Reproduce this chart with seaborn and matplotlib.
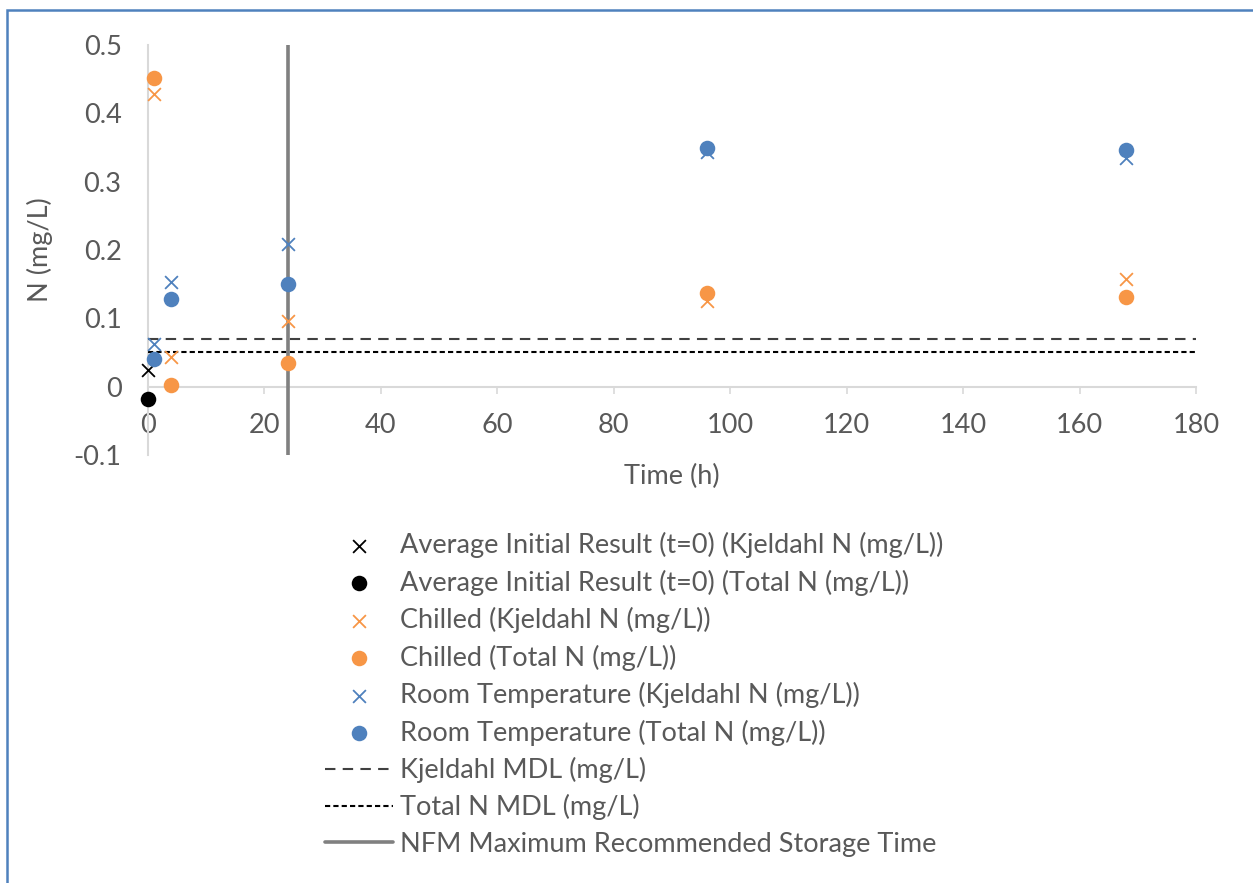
import matplotlib
matplotlib.use("Agg")
import matplotlib.pyplot as plt
import seaborn as sns
import pandas as pd
from matplotlib.patches import Rectangle

# valores
tempo = [1, 4, 24, 96, 168]
tempo_inicial = [0]
inicial_kjeldahl = [0.024]
inicial_total = [-0.018]
chilled_kjeldahl = [0.429, 0.044, 0.096, 0.125, 0.157]
chilled_total = [0.451, 0.002, 0.035, 0.137, 0.131]
room_kjeldahl = [0.063, 0.153, 0.209, 0.344, 0.335]
room_total = [0.041, 0.128, 0.150, 0.349, 0.347]
mdl_x = [0, 180]
kjeldahl_mdl = [0.07, 0.07]
total_mdl = [0.05, 0.05]
nfm_x = [24, 24]
nfm_y = [-0.1, 0.5]
xticks = [0, 20, 40, 60, 80, 100, 120, 140, 160, 180]
yticks = [-0.1, 0, 0.1, 0.2, 0.3, 0.4, 0.5]
ytick_labels = ["-0.1", "0", "0.1", "0.2", "0.3", "0.4", "0.5"]

sns.set_theme(style="white")
plt.rcParams['font.family'] = ['Lato', 'DejaVu Sans']
cinza_texto = '#595959'
laranja = '#F79646'
azul = '#4F81BD'
fonte = 19.5

fig = plt.figure(figsize=(12.53, 8.83), dpi=100)
ax = fig.add_axes([148 / 1253, 1 - 455 / 883, 1048 / 1253, 410 / 883])

def pontos(x, y, cor, marcador, label):
    df = pd.DataFrame({'x': x, 'y': y})
    if marcador == 'o':
        sns.scatterplot(data=df, x='x', y='y', color=cor, marker='o', s=125,
                        linewidth=0, ax=ax, clip_on=False, zorder=4, label=label)
    else:
        sns.scatterplot(data=df, x='x', y='y', color=cor, marker='x', s=85,
                        linewidth=1.3, ax=ax, clip_on=False, zorder=4, label=label)

pontos(tempo_inicial, inicial_kjeldahl, 'black', 'x', 'Average Initial Result (t=0) (Kjeldahl N (mg/L))')
pontos(tempo_inicial, inicial_total, 'black', 'o', 'Average Initial Result (t=0) (Total N (mg/L))')
pontos(tempo, chilled_kjeldahl, laranja, 'x', 'Chilled (Kjeldahl N (mg/L))')
pontos(tempo, chilled_total, laranja, 'o', 'Chilled (Total N (mg/L))')
pontos(tempo, room_kjeldahl, azul, 'x', 'Room Temperature (Kjeldahl N (mg/L))')
pontos(tempo, room_total, azul, 'o', 'Room Temperature (Total N (mg/L))')

sns.lineplot(x=mdl_x, y=kjeldahl_mdl, color='#404040', linewidth=1.5, ax=ax,
             estimator=None, sort=False, dashes=False, label='Kjeldahl MDL (mg/L)')
ax.lines[-1].set_dashes([5, 3.5])
sns.lineplot(x=mdl_x, y=total_mdl, color='black', linewidth=1.5, ax=ax,
             estimator=None, sort=False, dashes=False, label='Total N MDL (mg/L)')
ax.lines[-1].set_dashes([2.5, 1.5])
sns.lineplot(x=nfm_x, y=nfm_y, color='#808080', linewidth=2.6, ax=ax,
             estimator=None, sort=False, label='NFM Maximum Recommended Storage Time')
for l in ax.lines:
    l.set_zorder(3)

ax.set_xlim(0, 180)
ax.set_ylim(-0.1, 0.5)
ax.set_xticks(xticks)
ax.set_yticks(yticks)
ax.set_yticklabels(ytick_labels)

for lado in ['top', 'right']:
    ax.spines[lado].set_visible(False)
ax.spines['bottom'].set_position(('data', 0))
ax.spines['bottom'].set_color('#D9D9D9')
ax.spines['bottom'].set_linewidth(1.5)
ax.spines['left'].set_color('#D9D9D9')
ax.spines['left'].set_linewidth(1.5)
ax.spines['bottom'].set_zorder(1)
ax.spines['left'].set_zorder(1)

ax.tick_params(axis='x', direction='out', length=5, width=1.2, color='#D9D9D9',
               pad=14, labelsize=fonte, labelcolor=cinza_texto, bottom=True)
ax.tick_params(axis='y', length=0, pad=19, labelsize=fonte, labelcolor=cinza_texto, left=True)

ax.set_xlabel('Time (h)', fontsize=fonte, color=cinza_texto)
ax.set_ylabel('N (mg/L)', fontsize=fonte, color=cinza_texto, va='center')
ax.xaxis.set_label_coords(0.5, -0.022)
ax.yaxis.set_label_coords(-0.103, 0.5)

handles, labels = ax.get_legend_handles_labels()
if ax.legend_:
    ax.legend_.remove()
leg = fig.legend(handles, labels, loc='upper left', bbox_to_anchor=(325 / 1253, 1 - 532 / 883),
                 frameon=False, fontsize=fonte, handlelength=2.5, handletextpad=0.28,
                 labelspacing=0.42, borderaxespad=0, borderpad=0)
for t in leg.get_texts():
    t.set_color(cinza_texto)

# borda do grafico
fig.patches.append(Rectangle((7 / 1253, -0.01), 1.1, 1 - 10 / 883 + 0.01, transform=fig.transFigure,
                             fill=False, edgecolor='#4F81BD', linewidth=1.8))

fig.savefig('out.png', dpi=100)
